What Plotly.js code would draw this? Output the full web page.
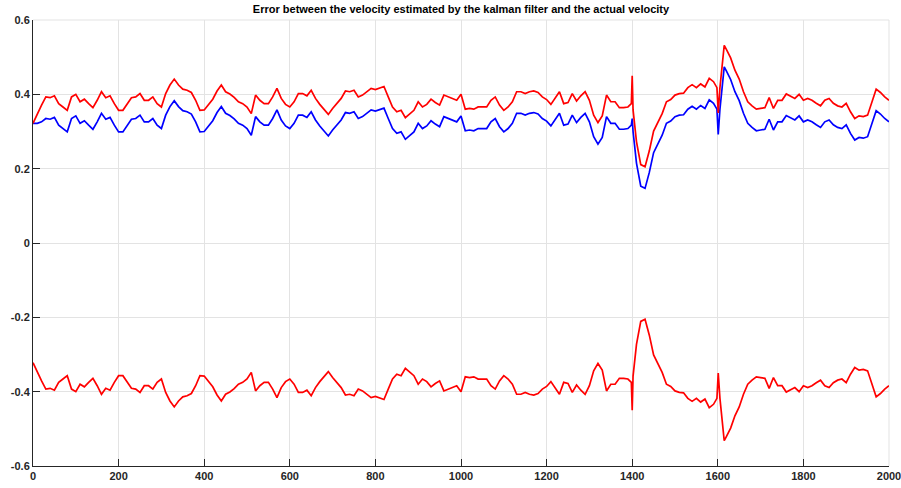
<!DOCTYPE html>
<html>
<head>
<meta charset="utf-8">
<script src="https://cdn.plot.ly/plotly-3.0.1.min.js"></script>
<style>html,body{margin:0;padding:0;background:#fff;}#chart{width:901px;height:488px;}</style>
</head>
<body>
<div id="chart"></div>
<script>
// sample positions (time step)
const steps = [0,10,20,30,40,50,60,70,80,90,100,110,120,130,140,150,160,170,180,190,
200,210,220,230,240,250,260,270,280,290,300,310,320,330,340,350,360,370,380,390,
400,410,420,430,440,450,460,470,480,490,500,510,520,530,540,550,560,570,580,590,
600,610,620,630,640,650,660,670,680,690,700,710,720,730,740,750,760,770,780,790,
800,810,820,830,840,850,860,870,880,890,900,910,920,930,940,950,960,970,980,990,
1000,1010,1020,1030,1040,1050,1060,1070,1080,1090,1100,1110,1120,1130,1140,1150,1160,1170,1180,1190,
1200,1210,1220,1230,1240,1250,1260,1270,1280,1290,1300,1310,1320,1330,1340,1350,1360,1370,1380,1390,
1398,1400,1402,1406,1410,1414,1420,1430,1440,1450,1460,1470,1480,1490,1500,1510,1520,1530,1540,1550,
1560,1570,1580,1590,1598,1601,1605,1610,1615,1620,1630,1640,1650,1660,1670,1680,1690,1700,1710,1720,
1730,1740,1750,1760,1770,1780,1790,1800,1810,1820,1830,1840,1850,1860,1870,1880,1890,1900,1910,1920,
1930,1940,1950,1960,1970,1980,1990,2000];

// blue series
const blueVals = [0.322,0.322,0.326,0.335,0.333,0.338,0.317,0.308,0.299,0.335,0.342,0.322,0.329,0.317,0.306,0.326,0.349,0.333,0.338,0.317,
0.299,0.299,0.317,0.333,0.335,0.344,0.326,0.326,0.335,0.317,0.308,0.344,0.367,0.383,0.367,0.356,0.353,0.347,0.326,0.299,
0.300,0.313,0.329,0.351,0.367,0.349,0.343,0.334,0.322,0.317,0.308,0.290,0.340,0.326,0.317,0.317,0.335,0.358,0.331,0.315,
0.308,0.322,0.344,0.344,0.338,0.353,0.331,0.315,0.302,0.288,0.304,0.317,0.331,0.351,0.349,0.353,0.335,0.340,0.349,0.358,
0.355,0.358,0.363,0.335,0.308,0.295,0.299,0.279,0.288,0.299,0.322,0.308,0.315,0.329,0.320,0.313,0.340,0.335,0.329,0.326,
0.342,0.302,0.304,0.302,0.308,0.308,0.308,0.326,0.335,0.313,0.299,0.308,0.322,0.349,0.349,0.344,0.349,0.351,0.347,0.335,
0.328,0.315,0.333,0.349,0.317,0.320,0.344,0.324,0.338,0.349,0.326,0.286,0.266,0.284,0.340,0.322,0.322,0.306,0.306,0.308,
0.317,0.335,0.300,0.250,0.215,0.190,0.153,0.147,0.190,0.243,0.268,0.290,0.322,0.328,0.340,0.344,0.345,0.360,0.368,0.360,
0.370,0.362,0.385,0.376,0.360,0.292,0.360,0.412,0.474,0.463,0.440,0.407,0.383,0.349,0.322,0.311,0.302,0.304,0.306,0.333,
0.304,0.326,0.326,0.343,0.338,0.331,0.342,0.326,0.331,0.326,0.318,0.311,0.326,0.331,0.318,0.311,0.308,0.318,0.295,0.277,
0.284,0.282,0.286,0.322,0.356,0.347,0.335,0.326];

// red series (upper)
const redUpper = [0.322,0.349,0.371,0.393,0.391,0.396,0.375,0.366,0.357,0.393,0.400,0.380,0.387,0.375,0.364,0.384,0.407,0.391,0.396,0.375,
0.357,0.357,0.375,0.391,0.393,0.402,0.384,0.384,0.393,0.375,0.366,0.402,0.425,0.441,0.425,0.414,0.411,0.405,0.384,0.357,
0.358,0.371,0.387,0.409,0.425,0.407,0.401,0.392,0.380,0.375,0.366,0.348,0.398,0.384,0.375,0.375,0.393,0.416,0.389,0.373,
0.366,0.380,0.402,0.402,0.396,0.411,0.389,0.373,0.360,0.346,0.362,0.375,0.389,0.409,0.407,0.411,0.393,0.398,0.407,0.416,
0.413,0.416,0.421,0.393,0.366,0.353,0.357,0.337,0.346,0.357,0.380,0.366,0.373,0.387,0.378,0.371,0.398,0.393,0.387,0.384,
0.400,0.360,0.362,0.360,0.366,0.366,0.366,0.384,0.393,0.371,0.357,0.366,0.380,0.407,0.407,0.402,0.407,0.409,0.405,0.393,
0.386,0.373,0.391,0.407,0.375,0.378,0.402,0.382,0.396,0.407,0.384,0.344,0.324,0.342,0.398,0.380,0.380,0.364,0.364,0.366,
0.375,0.450,0.358,0.308,0.273,0.248,0.211,0.205,0.248,0.301,0.326,0.348,0.380,0.386,0.398,0.402,0.403,0.418,0.426,0.418,
0.428,0.420,0.443,0.434,0.418,0.350,0.418,0.470,0.532,0.521,0.498,0.465,0.441,0.407,0.380,0.369,0.360,0.362,0.364,0.391,
0.362,0.384,0.384,0.401,0.396,0.389,0.400,0.384,0.389,0.384,0.376,0.369,0.384,0.389,0.376,0.369,0.366,0.376,0.353,0.335,
0.342,0.340,0.344,0.380,0.414,0.405,0.393,0.384];

// red series (lower, mirrored)
const redLower = [-0.322,-0.349,-0.371,-0.393,-0.391,-0.396,-0.375,-0.366,-0.357,-0.393,-0.400,-0.380,-0.387,-0.375,-0.364,-0.384,-0.407,-0.391,-0.396,-0.375,
-0.357,-0.357,-0.375,-0.391,-0.393,-0.402,-0.384,-0.384,-0.393,-0.375,-0.366,-0.402,-0.425,-0.441,-0.425,-0.414,-0.411,-0.405,-0.384,-0.357,
-0.358,-0.371,-0.387,-0.409,-0.425,-0.407,-0.401,-0.392,-0.380,-0.375,-0.366,-0.348,-0.398,-0.384,-0.375,-0.375,-0.393,-0.416,-0.389,-0.373,
-0.366,-0.380,-0.402,-0.402,-0.396,-0.411,-0.389,-0.373,-0.360,-0.346,-0.362,-0.375,-0.389,-0.409,-0.407,-0.411,-0.393,-0.398,-0.407,-0.416,
-0.413,-0.416,-0.421,-0.393,-0.366,-0.353,-0.357,-0.337,-0.346,-0.357,-0.380,-0.366,-0.373,-0.387,-0.378,-0.371,-0.398,-0.393,-0.387,-0.384,
-0.400,-0.360,-0.362,-0.360,-0.366,-0.366,-0.366,-0.384,-0.393,-0.371,-0.357,-0.366,-0.380,-0.407,-0.407,-0.402,-0.407,-0.409,-0.405,-0.393,
-0.386,-0.373,-0.391,-0.407,-0.375,-0.378,-0.402,-0.382,-0.396,-0.407,-0.384,-0.344,-0.324,-0.342,-0.398,-0.380,-0.380,-0.364,-0.364,-0.366,
-0.375,-0.450,-0.358,-0.308,-0.273,-0.248,-0.211,-0.205,-0.248,-0.301,-0.326,-0.348,-0.380,-0.386,-0.398,-0.402,-0.403,-0.418,-0.426,-0.418,
-0.428,-0.420,-0.443,-0.434,-0.418,-0.350,-0.418,-0.470,-0.532,-0.521,-0.498,-0.465,-0.441,-0.407,-0.380,-0.369,-0.360,-0.362,-0.364,-0.391,
-0.362,-0.384,-0.384,-0.401,-0.396,-0.389,-0.400,-0.384,-0.389,-0.384,-0.376,-0.369,-0.384,-0.389,-0.376,-0.369,-0.366,-0.376,-0.353,-0.335,
-0.342,-0.340,-0.344,-0.380,-0.414,-0.405,-0.393,-0.384];

const xTicks = [0,200,400,600,800,1000,1200,1400,1600,1800,2000];
const yTicks = [-0.6,-0.4,-0.2,0,0.2,0.4,0.6];
const yTickText = ['-0.6','-0.4','-0.2','0','0.2','0.4','0.6'];

const lineStyle = (c) => ({color: c, width: 1.7});
const traces = [
  {x: steps, y: blueVals, type: 'scatter', mode: 'lines', line: lineStyle('#0000ff'), hoverinfo: 'skip', cliponaxis: false},
  {x: steps, y: redUpper, type: 'scatter', mode: 'lines', line: lineStyle('#ff0000'), hoverinfo: 'skip', cliponaxis: false},
  {x: steps, y: redLower, type: 'scatter', mode: 'lines', line: lineStyle('#ff0000'), hoverinfo: 'skip', cliponaxis: false}
];

const tickFont = {family: 'Liberation Sans Narrow, Arial Narrow, Liberation Sans, Arial, sans-serif', size: 11, color: '#262626', weight: 'bold'};
const layout = {
  width: 901, height: 488,
  margin: {l: 33, r: 12, t: 20, b: 22},
  paper_bgcolor: '#ffffff', plot_bgcolor: '#ffffff',
  showlegend: false,
  title: {text: 'Error between the velocity estimated by the kalman filter and the actual velocity',
    font: {family: 'Liberation Sans, Arial, sans-serif', size: 11, color: '#000000', weight: 'bold'},
    x: 0.5, xref: 'paper', y: 0.981, yref: 'container', xanchor: 'center', yanchor: 'middle'},
  xaxis: {range: [0, 2000], tickvals: xTicks, ticktext: xTicks.map(String), showgrid: true, gridcolor: '#e3e3e3', gridwidth: 1,
    zeroline: false, showline: true, linecolor: '#262626', linewidth: 1, ticks: 'inside', ticklen: 7, tickcolor: '#262626',
    tickfont: tickFont, mirror: false, ticklabeloverflow: 'allow', automargin: false},
  yaxis: {range: [-0.6, 0.6], tickvals: yTicks, ticktext: yTickText, showgrid: true, gridcolor: '#e3e3e3', gridwidth: 1,
    zeroline: false, showline: true, linecolor: '#262626', linewidth: 1, ticks: 'inside', ticklen: 7, tickcolor: '#262626',
    tickfont: tickFont, mirror: false, ticklabeloverflow: 'allow', automargin: false},
  shapes: [
    {type: 'line', xref: 'paper', yref: 'paper', x0: 0, x1: 1, y0: 1, y1: 1, line: {color: '#e3e3e3', width: 1}, layer: 'below'},
    {type: 'line', xref: 'paper', yref: 'paper', x0: 1, x1: 1, y0: 0, y1: 1, line: {color: '#e3e3e3', width: 1}, layer: 'below'}
  ]
};
Plotly.newPlot('chart', traces, layout, {staticPlot: true, displayModeBar: false});
</script>
</body>
</html>
